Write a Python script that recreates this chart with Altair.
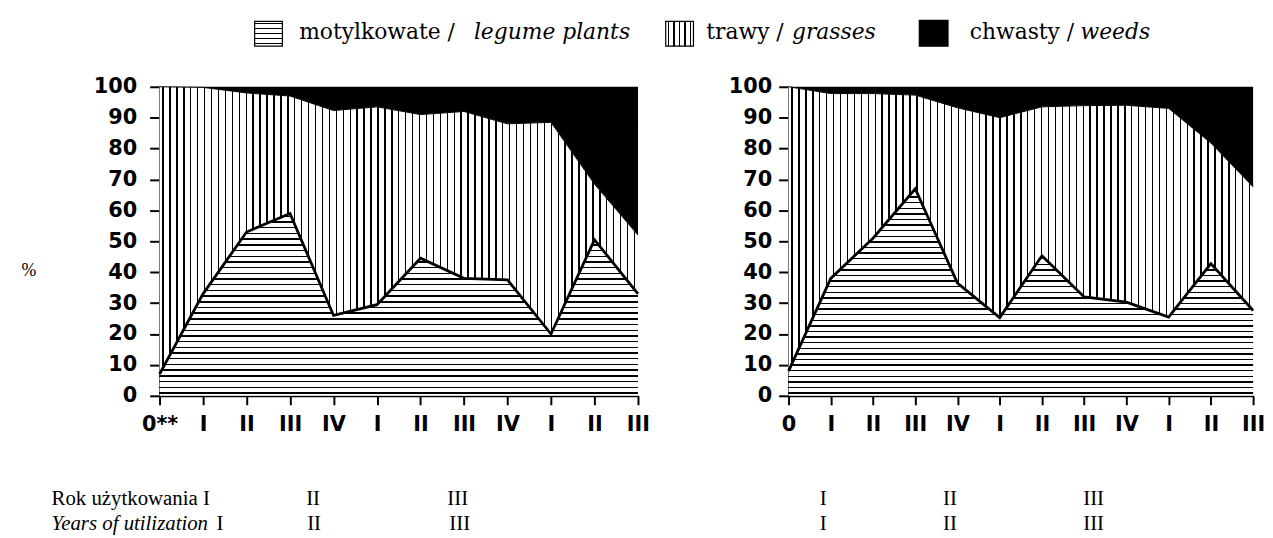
import json
import altair as alt
import pandas as pd

# ---------------- data ----------------
X_LABELS_LEFT = ["0**", "I", "II", "III", "IV", "I", "II", "III", "IV", "I", "II", "III"]
X_LABELS_RIGHT = ["0", "I", "II", "III", "IV", "I", "II", "III", "IV", "I", "II", "III"]

LEFT_LEGUME = [7, 33, 53, 59, 26, 29.5, 44.5, 38, 37.5, 20, 50.5, 33]
LEFT_GRASSES = [93, 66.8, 45, 38, 66.3, 64, 46.5, 54, 50.5, 68.5, 18, 19]
LEFT_WEEDS = [0, 0.2, 2, 3, 7.7, 6.5, 9, 8, 12, 11.5, 31.5, 48]

RIGHT_LEGUME = [8, 38, 51, 67, 36.5, 25.3, 45.3, 32, 30.3, 25.5, 42.8, 27.6]
RIGHT_GRASSES = [92, 59.8, 46.8, 30.3, 56.7, 64.7, 48.2, 61.9, 63.7, 67.5, 39, 40]
RIGHT_WEEDS = [0, 2.2, 2.2, 2.7, 6.8, 10, 6.5, 6.1, 6, 7, 18.2, 32.4]

Y_TICKS = list(range(0, 101, 10))

LEG_LEGUME_PL = "motylkowate /"
LEG_LEGUME_EN = "legume plants"
LEG_GRASS_PL = "trawy /"
LEG_GRASS_EN = "grasses"
LEG_WEEDS_PL = "chwasty /"
LEG_WEEDS_EN = "weeds"

ROW1_TITLE = "Rok użytkowania I"
ROW2_TITLE = "Years of utilization"
YEARS = ["I", "II", "III"]

# ---------------- styling helpers ----------------
H = 312
W_LEFT = 483
W_RIGHT = 469
ONE = pd.DataFrame({"k": [0]})

TICK_FONT = "DejaVu Sans"
SERIF = "DejaVu Serif"
TIMES = "Liberation Serif"


def stripes(n, frac, horizontal_lines):
    stops = []
    p = 1.0 / n
    for i in range(n):
        a = i * p
        b = a + p * (0.5 - frac / 2)
        c = a + p * (0.5 + frac / 2)
        d = min(1.0, (i + 1) * p)
        for off, col in [(a, "white"), (b, "white"), (b, "black"), (c, "black"), (c, "white"), (d, "white")]:
            stops.append({"offset": round(min(1.0, off), 5), "color": col})
    g = {"gradient": "linear", "stops": stops}
    if horizontal_lines:
        g.update(x1=0, x2=0, y1=1, y2=0)
    else:
        g.update(x1=0, x2=1, y1=0, y2=0)
    return g


def txt(s, x, y, align="left", font=SERIF, size=22, style="normal", weight="normal"):
    return alt.Chart(ONE).mark_text(
        align=align, baseline="alphabetic", font=font, fontSize=size,
        fontStyle=style, fontWeight=weight, color="black"
    ).encode(x=alt.value(x), y=alt.value(y), text=alt.value(s))


def icon(x1, x2, y1, y2, fill):
    return alt.Chart(ONE).mark_rect(fill=fill, stroke="black", strokeWidth=1.2, opacity=1).encode(
        x=alt.value(x1), x2=alt.value(x2), y=alt.value(y1), y2=alt.value(y2)
    )


def panel(legume, grasses, weeds, labels, width, y_label_pad, extra):
    df = pd.DataFrame({
        "idx": list(range(len(legume))),
        "legume": legume,
        "top": [l + g for l, g in zip(legume, grasses)],
        "full": [l + g + w for l, g, w in zip(legume, grasses, weeds)],
    })
    label_expr = json.dumps(labels) + "[datum.value]"
    x = alt.X("idx:Q", title=None,
              scale=alt.Scale(domain=[0, len(legume) - 1], nice=False, zero=False),
              axis=alt.Axis(values=list(range(len(legume))), labelExpr=label_expr, grid=False,
                            domainColor="black", domainWidth=2, tickColor="black", tickWidth=2,
                            tickSize=9, labelFont=TICK_FONT, labelFontWeight="bold", labelFontSize=21,
                            labelColor="black", labelPadding=9, labelAngle=0, labelFlush=False,
                            labelOverlap=False))
    y_axis = alt.Axis(values=Y_TICKS, grid=False, domainColor="black", domainWidth=2,
                      tickColor="black", tickWidth=2, tickSize=10, labelFont=TICK_FONT,
                      labelFontWeight="bold", labelFontSize=21, labelColor="black",
                      labelPadding=y_label_pad, labelFlush=False, labelOverlap=False)
    yscale = alt.Scale(domain=[0, 100], nice=False)

    base = alt.Chart(df)
    n_h = max(4, round(max(legume) * H / 100 / 5.7))
    n_v = round(width / 7.0)
    weeds_area = base.mark_area(fill="black", opacity=1).encode(
        x=x, y=alt.Y("full:Q", title=None, scale=yscale, axis=y_axis), y2="top:Q")
    grass_area = base.mark_area(fill=stripes(n_v, 0.2, False), opacity=1).encode(
        x=x, y=alt.Y("top:Q", title=None, scale=yscale, axis=y_axis), y2="legume:Q")
    legume_area = base.mark_area(fill=stripes(n_h, 0.25, True), opacity=1).encode(
        x=x, y=alt.Y("legume:Q", title=None, scale=yscale, axis=y_axis, stack=None))
    legume_line = base.mark_line(color="black", strokeWidth=2.8).encode(
        x=x, y=alt.Y("legume:Q", title=None, scale=yscale, axis=y_axis))
    top_line = base.mark_line(color="black", strokeWidth=1).encode(
        x=x, y=alt.Y("top:Q", title=None, scale=yscale, axis=y_axis))
    return alt.layer(weeds_area, grass_area, legume_area, legume_line, top_line, *extra).properties(
        width=width, height=H)


# left-panel annotations (legend, "%", bottom year labels), positions relative to the left plot
anchor = alt.Chart(ONE).mark_rule(stroke="white", strokeWidth=0.01, opacity=0).encode(
    x=alt.value(-153), x2=alt.value(-153), y=alt.value(-77), y2=alt.value(-76))

left_extra = [
    anchor,
    icon(96, 124, -66, -41, stripes(5, 0.25, True)),
    txt(LEG_LEGUME_PL, 141, -48),
    txt(LEG_LEGUME_EN, 475, -48, align="right", style="italic"),
    icon(511, 539, -66, -41, stripes(5, 0.25, False)),
    txt(LEG_GRASS_PL, 552, -48),
    txt(LEG_GRASS_EN, 723, -48, align="right", style="italic"),
    icon(767, 796, -67, -41, "black"),
    txt(LEG_WEEDS_PL, 818, -48),
    txt(LEG_WEEDS_EN, 1000, -48, align="right", style="italic"),
    txt("%", -132, 191, align="center", font=TIMES, size=18),
    txt(ROW1_TITLE, -109, 422, font=TIMES, size=21),
    txt(YEARS[1], 155, 422, align="center", font=TIMES, size=21),
    txt(YEARS[2], 301, 422, align="center", font=TIMES, size=21),
    txt(ROW2_TITLE, -109, 447, font=TIMES, size=21, style="italic"),
    txt(YEARS[0], 61, 447, align="center", font=TIMES, size=21),
    txt(YEARS[1], 156, 447, align="center", font=TIMES, size=21),
    txt(YEARS[2], 303, 447, align="center", font=TIMES, size=21),
]

right_extra = [
    txt(YEARS[0], 35, 422, align="center", font=TIMES, size=21),
    txt(YEARS[1], 163, 422, align="center", font=TIMES, size=21),
    txt(YEARS[2], 308, 422, align="center", font=TIMES, size=21),
    txt(YEARS[0], 35, 447, align="center", font=TIMES, size=21),
    txt(YEARS[1], 163, 447, align="center", font=TIMES, size=21),
    txt(YEARS[2], 308, 447, align="center", font=TIMES, size=21),
]

left = panel(LEFT_LEGUME, LEFT_GRASSES, LEFT_WEEDS, X_LABELS_LEFT, W_LEFT, 13, left_extra)
right = panel(RIGHT_LEGUME, RIGHT_GRASSES, RIGHT_WEEDS, X_LABELS_RIGHT, W_RIGHT, 7, right_extra)

chart = alt.hconcat(left, right, spacing=152, bounds="flush").properties(
    padding=0, background="white"
).configure_view(stroke=None)

chart.save("out.html", embed_options={"renderer": "svg", "actions": False})
